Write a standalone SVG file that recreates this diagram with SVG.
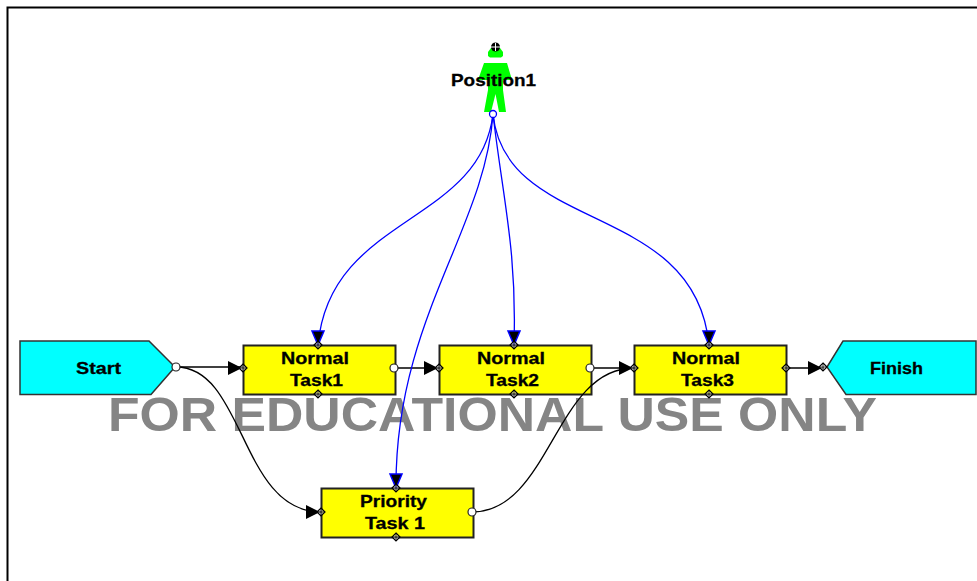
<svg xmlns="http://www.w3.org/2000/svg" width="977" height="581" viewBox="0 0 977 581">
<style>
.box{fill:#ffff00;stroke:#222;stroke-width:2}
.term{fill:#00ffff;stroke:#333;stroke-width:1.5}
.lbl{font-family:"Liberation Sans",Arial,sans-serif;font-size:17px;font-weight:bold;fill:#000;stroke:#000;stroke-width:.3}
.wm{font-family:"Liberation Sans",Arial,sans-serif;font-size:48px;font-weight:bold;fill:#858585}
.blk{fill:none;stroke:#000;stroke-width:1.3}
.blu{fill:none;stroke:#0000ff;stroke-width:1.3}
.ah{fill:#000}
.ahb{fill:#000;stroke:#0000ff;stroke-width:1.5}
.po{fill:#fff;stroke:#222;stroke-width:1.2}
.pd{fill:#fff;fill-opacity:.6;stroke:#000;stroke-width:1.2}
</style>
<defs>
<g id="port"><path class="pd" d="M0-4L4 0L0 4L-4 0Z"/><path d="M-4 0H4M0-4V4" stroke="#000" stroke-width=".8"/></g>
<path id="ar" class="ah" d="M-15-7L-1 0L-15 7Z"/>
<path id="ad" class="ahb" d="M-6-13H6L0 1Z"/>
</defs>
<path d="M7.500 581V7.500H977" fill="none" stroke="#000" stroke-width="2"/>

<g id="start"><path class="term" d="M20 341H149L175 367L151 394.500H20Z"/><text class="lbl" x="76" y="374" textLength="45" lengthAdjust="spacingAndGlyphs">Start</text></g>
<g id="finish"><path class="term" d="M976 341H843L827 367L846 394.500H976Z"/><text class="lbl" x="870" y="374" textLength="53" lengthAdjust="spacingAndGlyphs">Finish</text></g>
<g id="task1"><rect class="box" x="243.500" y="345.500" width="152" height="49"/><text class="lbl" x="281" y="364" textLength="68" lengthAdjust="spacingAndGlyphs">Normal</text><text class="lbl" x="290" y="386" textLength="53" lengthAdjust="spacingAndGlyphs">Task1</text></g>
<g id="task2"><rect class="box" x="439.500" y="345.500" width="152" height="49"/><text class="lbl" x="477" y="364" textLength="68" lengthAdjust="spacingAndGlyphs">Normal</text><text class="lbl" x="486" y="386" textLength="53" lengthAdjust="spacingAndGlyphs">Task2</text></g>
<g id="task3"><rect class="box" x="634.500" y="345.500" width="152" height="49"/><text class="lbl" x="672" y="364" textLength="68" lengthAdjust="spacingAndGlyphs">Normal</text><text class="lbl" x="681" y="386" textLength="53" lengthAdjust="spacingAndGlyphs">Task3</text></g>
<g id="priority"><rect class="box" x="321.500" y="488.500" width="152" height="49"/><text class="lbl" x="360" y="507" textLength="67" lengthAdjust="spacingAndGlyphs">Priority</text><text class="lbl" x="365" y="529" textLength="60" lengthAdjust="spacingAndGlyphs">Task 1</text></g>
<g id="position1"><path fill="#00ff00" d="M488 52L491 48H500L503 52V56L501 57.500H490L488 56Z"/><path fill="#00ff00" d="M484 63H507L512 80H503V90L506 112H499L495.500 94L491 112H484L488 90V80H478Z"/><text class="lbl" x="451" y="86" textLength="85" lengthAdjust="spacingAndGlyphs">Position1</text></g>

<text class="wm" x="108" y="431" textLength="769" lengthAdjust="spacingAndGlyphs">FOR EDUCATIONAL USE ONLY</text>

<g id="connectors">
<path class="blk" d="M176 367H243"/>
<path class="blk" d="M176 367C245 367 240 512 321 512"/>
<path class="blk" d="M395 368H439"/>
<path class="blk" d="M591 368H634"/>
<path class="blk" d="M472 512C550 512 555 368 634 368"/>
<path class="blk" d="M786 368H824"/>
<path class="blu" d="M493 114C480 225 330 215 318 345"/>
<path class="blu" d="M493 114C503 200 517 250 514 345"/>
<path class="blu" d="M493 114C505 235 695 200 709 345"/>
<path class="blu" d="M493 114C485 230 395 320 396 488"/>
<use href="#ar" x="243" y="368"/><use href="#ar" x="439" y="368"/><use href="#ar" x="634" y="368"/><use href="#ar" x="823" y="368"/><use href="#ar" x="321" y="512"/>
<use href="#ad" x="318" y="344"/><use href="#ad" x="514" y="344"/><use href="#ad" x="709" y="344"/><use href="#ad" x="396" y="487"/>
<circle class="po" cx="176" cy="367" r="4"/><circle class="po" cx="394" cy="368" r="4"/><circle class="po" cx="590" cy="368" r="4"/><circle class="po" cx="472" cy="512" r="4"/><circle fill="#fff" stroke="#00f" stroke-width="1.300" cx="493" cy="114" r="3.500"/>
<use href="#port" x="243" y="368"/><use href="#port" x="439" y="368"/><use href="#port" x="634" y="368"/><use href="#port" x="786" y="368"/><use href="#port" x="823" y="367"/><use href="#port" x="321" y="512"/>
<use href="#port" x="318" y="345"/><use href="#port" x="514" y="345"/><use href="#port" x="709" y="345"/><use href="#port" x="396" y="488"/>
<use href="#port" x="318" y="394"/><use href="#port" x="514" y="394"/><use href="#port" x="709" y="394"/><use href="#port" x="396" y="537"/>
<circle cx="495.500" cy="47" r="4.500" fill="#000"/><path d="M491 47H500M495.500 43V51" stroke="#fff" stroke-width="1"/>
</g>
</svg>
